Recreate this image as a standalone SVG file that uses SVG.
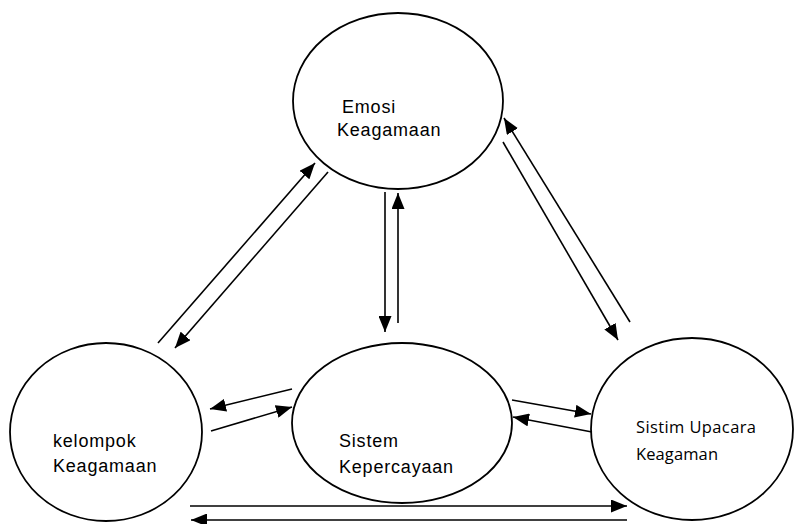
<svg xmlns="http://www.w3.org/2000/svg" width="795" height="524" viewBox="0 0 795 524">
<style>
.node{fill:#fff;stroke:#000;stroke-width:1.8}
.lbl{font-family:"Liberation Sans",Arial,sans-serif;font-size:18px;fill:#000;letter-spacing:0.8px}
.lbl2{font-family:"Open Sans","Noto Sans",sans-serif;font-size:16.5px;fill:#000}
.conn line{stroke:#000;stroke-width:1.6;marker-end:url(#ah)}
</style>
<defs>
<marker id="ah" markerUnits="userSpaceOnUse" markerWidth="16" markerHeight="13" refX="16" refY="6.5" orient="auto">
<path d="M0,0 L16,6.5 L0,13 z" fill="#000"/>
</marker>
</defs>
<rect width="795" height="524" fill="#fff"/>
<g id="emosi">
<ellipse class="node" cx="398" cy="101" rx="105" ry="88"/>
<text class="lbl" x="342" y="113">Emosi</text>
<text class="lbl" x="337" y="136">Keagamaan</text>
</g>
<g id="kelompok">
<ellipse class="node" cx="106" cy="432" rx="96" ry="89"/>
<text class="lbl" x="53" y="447">kelompok</text>
<text class="lbl" x="53" y="472">Keagamaan</text>
</g>
<g id="sistem">
<ellipse class="node" cx="402" cy="423" rx="110" ry="80"/>
<text class="lbl" x="339" y="447">Sistem</text>
<text class="lbl" x="339" y="473">Kepercayaan</text>
</g>
<g id="upacara">
<ellipse class="node" cx="692" cy="429" rx="101" ry="91"/>
<text class="lbl2" x="636" y="433" textLength="120">Sistim Upacara</text>
<text class="lbl2" x="636" y="460" textLength="82">Keagaman</text>
</g>
<g class="conn" id="connectors">
<line x1="158" y1="343" x2="315" y2="163"/>
<line x1="328" y1="172" x2="175" y2="348"/>
<line x1="385" y1="192" x2="385" y2="332"/>
<line x1="398" y1="323" x2="398" y2="193"/>
<line x1="630" y1="322" x2="504" y2="118"/>
<line x1="503" y1="142" x2="618" y2="340"/>
<line x1="292" y1="389" x2="210" y2="409"/>
<line x1="211" y1="431" x2="292" y2="407"/>
<line x1="592" y1="432" x2="513" y2="417"/>
<line x1="512" y1="400" x2="591" y2="414"/>
<line x1="190" y1="506" x2="627" y2="506"/>
<line x1="627" y1="520" x2="191" y2="520"/>
</g>
</svg>
